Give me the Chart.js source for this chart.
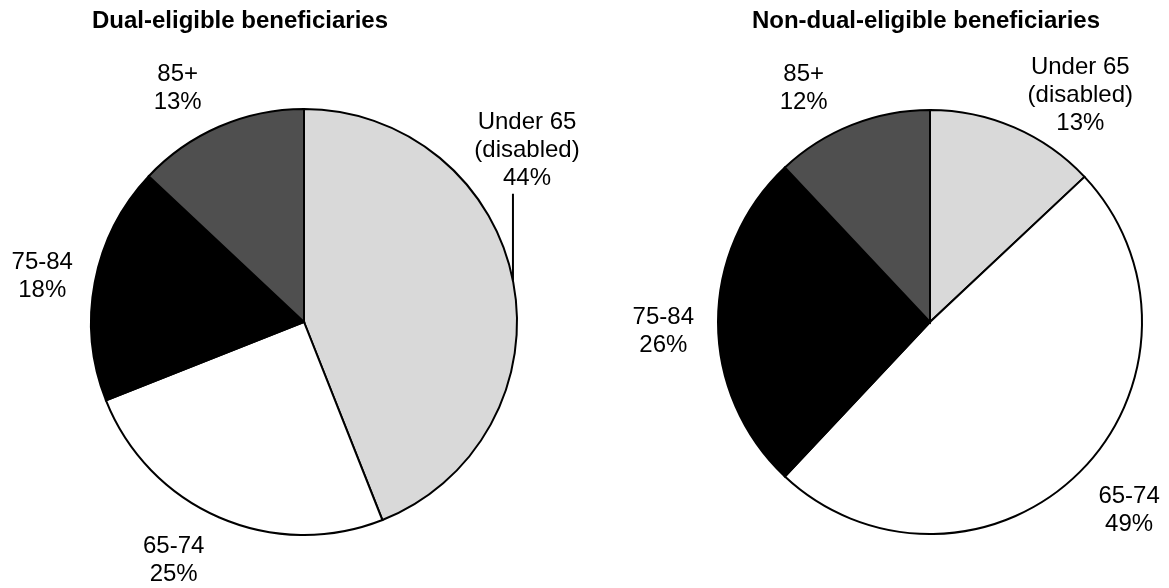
<!DOCTYPE html>
<html>
<head>
<meta charset="utf-8">
<script src="https://cdn.jsdelivr.net/npm/chart.js@4.4.1/dist/chart.umd.min.js"></script>
<style>
  body { margin: 0; background: #fff; font-family: "Liberation Sans", Arial, sans-serif; }
  #wrap { position: relative; width: 1169px; height: 588px; }
  .title { position: absolute; top: 6px; line-height: 28px; font-weight: bold; font-size: 24px; color: #000; white-space: nowrap; transform: translateX(-50%); }
  .box { position: absolute; top: 0; height: 588px; }
</style>
</head>
<body>
<div id="wrap">
  <div class="box" style="left:0;width:608px"><canvas id="dualChart"></canvas></div>
  <div class="box" style="left:608px;width:561px"><canvas id="nonDualChart"></canvas></div>
  <div class="title" style="left:240px">Dual-eligible beneficiaries</div>
  <div class="title" style="left:926px">Non-dual-eligible beneficiaries</div>
</div>
<script>
// age groups, same order in both pies (clockwise from 12 o'clock)
let ageGroups = [["Under 65", "(disabled)"], ["65-74"], ["75-84"], ["85+"]]
let dualShares = [44, 25, 18, 13]
let nonDualShares = [13, 49, 26, 12]
let sliceColors = ["#d9d9d9", "#ffffff", "#000000", "#4f4f4f"]

// where each label sits, in units of the pie radius from the centre
let dualLabelPos = [[1.047, -0.804], [-0.612, 1.121], [-1.229, -0.215], [-0.593, -1.098]]
let nonDualLabelPos = [[0.709, -1.070], [0.939, 0.887], [-1.258, 0.042], [-0.596, -1.103]]

const labelPlugin = {
    id: "sliceLabels",
    afterDatasetsDraw(chart, args, opts) {
        const ctx = chart.ctx
        const arcs = chart.getDatasetMeta(0).data
        const values = chart.data.datasets[0].data
        ctx.save()
        ctx.font = "24px 'Liberation Sans', Arial, sans-serif"
        ctx.fillStyle = "#000"
        ctx.textAlign = "center"
        ctx.textBaseline = "middle"
        const lh = 28
        arcs.forEach((arc, i) => {
            const r = arc.outerRadius
            const lines = ageGroups[i].concat([values[i] + "%"])
            const cx = arc.x + opts.pos[i][0] * r
            const cy = arc.y + opts.pos[i][1] * r
            const top = cy - (lines.length - 1) * lh / 2
            lines.forEach((t, k) => ctx.fillText(t, cx, top + k * lh))
            if (opts.leader && opts.leader.index === i) {
                // leader line straight down to the pie edge
                const lx = arc.x + opts.leader.x * r
                const dx = lx - arc.x
                const edgeY = arc.y - Math.sqrt(Math.max(r * r - dx * dx, 0))
                ctx.strokeStyle = "#000"
                ctx.lineWidth = 2
                ctx.beginPath()
                ctx.moveTo(lx, top + (lines.length - 1) * lh + 15)
                ctx.lineTo(lx, edgeY)
                ctx.stroke()
            }
        })
        ctx.restore()
    }
}

function renderPie(id, shares, labelPos, padding, leader) {
    const ctx = document.getElementById(id).getContext("2d")
    return new Chart(ctx, {
        type: "pie",
        data: {
            labels: ageGroups.map(x => x.join(" ")),
            datasets: [{
                data: shares,
                backgroundColor: sliceColors,
                borderColor: "#000",
                borderWidth: 2,
                borderJoinStyle: "miter"
            }]
        },
        options: {
            responsive: true,
            maintainAspectRatio: false,
            animation: false,
            layout: { padding: padding },
            plugins: {
                legend: { display: false },
                tooltip: { enabled: false },
                sliceLabels: { pos: labelPos, leader: leader }
            }
        },
        plugins: [labelPlugin]
    })
}

renderPie("dualChart", dualShares, dualLabelPos, { top: 108, bottom: 52, left: 90, right: 90 }, { index: 0, x: 0.981 })
renderPie("nonDualChart", nonDualShares, nonDualLabelPos, { top: 109, bottom: 53, left: 109, right: 26 }, null)
</script>
</body>
</html>
